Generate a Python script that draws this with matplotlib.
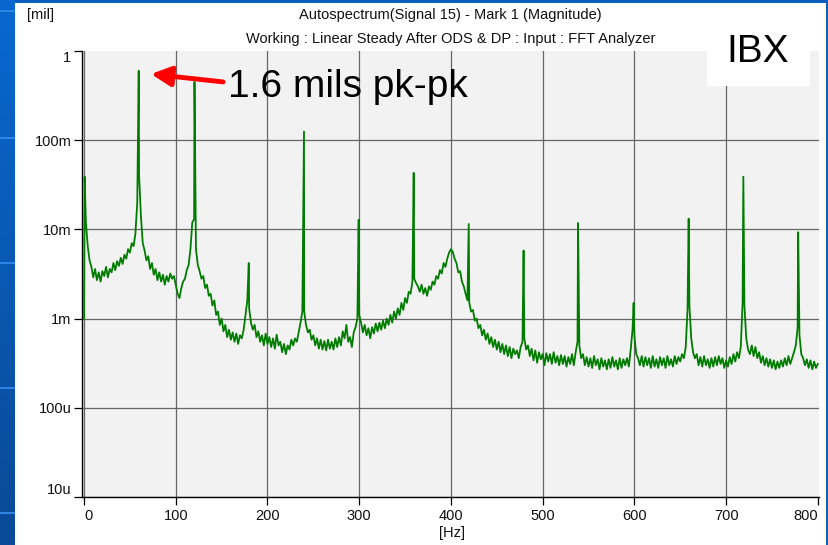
import numpy as np
import matplotlib
matplotlib.use('Agg')
import matplotlib.pyplot as plt
from matplotlib.patches import Rectangle

plt.rcParams['font.family'] = ['Liberation Sans', 'DejaVu Sans']

# spectrum floor, one value every 2 Hz from 0 to 800 Hz [mil]
freq_step = 2
floor_mil = [
    0.0010, 0.0120, 0.0065, 0.0045, 0.0038, 0.0029, 0.0036, 0.0027, 0.0033, 0.0026,   # 0-18
    0.0034, 0.0030, 0.0038, 0.0029, 0.0036, 0.0033, 0.0042, 0.0035, 0.0044, 0.0039,   # 20-38
    0.0048, 0.0041, 0.0052, 0.0047, 0.0060, 0.0055, 0.0070, 0.0065, 0.0090, 0.0200,   # 40-58
    0.0400, 0.0140, 0.0070, 0.0058, 0.0045, 0.0050, 0.0036, 0.0042, 0.0031, 0.0036,   # 60-78
    0.0027, 0.0033, 0.0026, 0.0031, 0.0024, 0.0030, 0.0026, 0.0032, 0.0028, 0.0030,   # 80-98
    0.0024, 0.0019, 0.0017, 0.0022, 0.0026, 0.0028, 0.0035, 0.0040, 0.0060, 0.0120,   # 100-118
    0.0130, 0.0060, 0.0040, 0.0034, 0.0028, 0.0030, 0.0022, 0.0024, 0.0018, 0.0019,   # 120-138
    0.0014, 0.0016, 0.0011, 0.0012, 0.00085, 0.0010, 0.00072, 0.00085, 0.00062, 0.00075,  # 140-158
    0.00058, 0.00070, 0.00055, 0.00068, 0.00052, 0.00065, 0.00060, 0.00075, 0.0011, 0.0016,  # 160-178
    0.0013, 0.0009, 0.00075, 0.00085, 0.00062, 0.00072, 0.00055, 0.00065, 0.00050, 0.00068,  # 180-198
    0.00052, 0.00062, 0.00048, 0.00060, 0.00046, 0.00066, 0.00050, 0.00055, 0.00042, 0.00052,  # 200-218
    0.00040, 0.00050, 0.00045, 0.00058, 0.00050, 0.00060, 0.00055, 0.00070, 0.00090, 0.0012,  # 220-238
    0.0012, 0.00085, 0.00070, 0.00075, 0.00058, 0.00065, 0.00050, 0.00060, 0.00046, 0.00058,  # 240-258
    0.00045, 0.00056, 0.00044, 0.00058, 0.00046, 0.00055, 0.00045, 0.00060, 0.00048, 0.00062,  # 260-278
    0.00050, 0.00072, 0.00060, 0.00085, 0.00055, 0.00062, 0.00048, 0.00070, 0.00080, 0.00100,  # 280-298
    0.00110, 0.00090, 0.00070, 0.00085, 0.00065, 0.00078, 0.00060, 0.00080, 0.00068, 0.00088,  # 300-318
    0.00072, 0.00090, 0.00075, 0.00095, 0.00078, 0.00100, 0.00085, 0.00110, 0.00090, 0.00120,  # 320-338
    0.00100, 0.00130, 0.00110, 0.00150, 0.00125, 0.00170, 0.00150, 0.00200, 0.00190, 0.00260,  # 340-358
    0.00280, 0.00250, 0.00230, 0.00200, 0.00240, 0.00190, 0.00220, 0.00180, 0.00230, 0.00210,  # 360-378
    0.00260, 0.00240, 0.00300, 0.00280, 0.00350, 0.00320, 0.00420, 0.00380, 0.00470, 0.00550,  # 380-398
    0.00600, 0.00560, 0.00470, 0.00420, 0.00330, 0.00340, 0.00260, 0.00230, 0.00190, 0.00160,  # 400-418
    0.00150, 0.00120, 0.00125, 0.00095, 0.00100, 0.00078, 0.00085, 0.00065, 0.00075, 0.00058,  # 420-438
    0.00068, 0.00052, 0.00062, 0.00048, 0.00058, 0.00045, 0.00055, 0.00042, 0.00052, 0.00040,  # 440-458
    0.00050, 0.00038, 0.00048, 0.00036, 0.00046, 0.00040, 0.00044, 0.00036, 0.00048, 0.00055,  # 460-478
    0.00060, 0.00045, 0.00050, 0.00038, 0.00046, 0.00034, 0.00044, 0.00032, 0.00042, 0.00035,  # 480-498
    0.00040, 0.00030, 0.00041, 0.00033, 0.00040, 0.00031, 0.00042, 0.00032, 0.00038, 0.00030,  # 500-518
    0.00039, 0.00031, 0.00038, 0.00029, 0.00037, 0.00031, 0.00040, 0.00030, 0.00042, 0.00055,  # 520-538
    0.00050, 0.00036, 0.00040, 0.00030, 0.00037, 0.00029, 0.00036, 0.00028, 0.00038, 0.00030,  # 540-558
    0.00035, 0.00027, 0.00036, 0.00029, 0.00034, 0.00027, 0.00035, 0.00028, 0.00037, 0.00029,  # 560-578
    0.00034, 0.00027, 0.00036, 0.00028, 0.00035, 0.00030, 0.00036, 0.00029, 0.00045, 0.00075,  # 580-598
    0.00065, 0.00040, 0.00036, 0.00030, 0.00038, 0.00029, 0.00037, 0.00030, 0.00036, 0.00028,  # 600-618
    0.00038, 0.00029, 0.00035, 0.00028, 0.00037, 0.00030, 0.00036, 0.00028, 0.00038, 0.00030,  # 620-638
    0.00035, 0.00029, 0.00038, 0.00031, 0.00037, 0.00033, 0.00040, 0.00036, 0.00048, 0.00130,  # 640-658
    0.00140, 0.00060, 0.00042, 0.00036, 0.00040, 0.00030, 0.00037, 0.00029, 0.00038, 0.00030,  # 660-678
    0.00035, 0.00028, 0.00036, 0.00029, 0.00037, 0.00030, 0.00038, 0.00031, 0.00036, 0.00028,  # 680-698
    0.00034, 0.00029, 0.00037, 0.00031, 0.00040, 0.00033, 0.00042, 0.00036, 0.00048, 0.00150,  # 700-718
    0.00140, 0.00060, 0.00045, 0.00040, 0.00050, 0.00038, 0.00048, 0.00036, 0.00042, 0.00032,  # 720-738
    0.00038, 0.00030, 0.00036, 0.00029, 0.00035, 0.00028, 0.00034, 0.00027, 0.00033, 0.00028,  # 740-758
    0.00034, 0.00029, 0.00036, 0.00030, 0.00038, 0.00031, 0.00036, 0.00042, 0.00050, 0.00080,  # 760-778
    0.00065, 0.00040, 0.00036, 0.00030, 0.00035, 0.00028, 0.00034, 0.00027, 0.00033, 0.00028,  # 780-798
    0.00031,                                                                                 # 800
]

# narrow harmonic lines on top of the floor
peak_hz = [0.6, 59.6, 120.4, 179.6, 239.8, 299.4, 359.4, 419.4, 479.2, 538.6, 599.2, 659.2, 718.8, 778.6]
peak_mil = [0.039, 0.60, 0.45, 0.0042, 0.125, 0.0128, 0.043, 0.0115, 0.0058, 0.0118, 0.0015, 0.0132, 0.039, 0.0093]

x_ticks = [0, 100, 200, 300, 400, 500, 600, 700, 800]
y_ticks = [1e-5, 1e-4, 1e-3, 1e-2, 1e-1, 1]
y_tick_labels = ['10u', '100u', '1m', '10m', '100m', '1']

freq = np.arange(len(floor_mil)) * freq_step
hz = np.concatenate([freq, peak_hz])
mil = np.concatenate([floor_mil, peak_mil])
order = np.argsort(hz, kind='stable')

W, H = 829, 545
fig = plt.figure(figsize=(W / 100, H / 100), dpi=100, facecolor='#0a5ebf')

# blue slide edge on the left with a soft gradient and light streaks
strip = fig.add_axes([0, 0, 15 / W, 1])
top_c = np.array([0x08, 0x68, 0xcf]) / 255
bot_c = np.array([0x0a, 0x4a, 0x96]) / 255
t = np.linspace(0, 1, 100)[:, None, None]
strip.imshow(top_c * (1 - t) + bot_c * t, aspect='auto', extent=[0, 1, 0, 1])
for yy in [10, 137, 262, 387, 512]:
    strip.add_patch(Rectangle((0, 1 - (yy + 1.5) / H), 1, 2 / H, color='#2e85e4', lw=0))
strip.set_xlim(0, 1)
strip.set_ylim(0, 1)
strip.axis('off')

# white panel
fig.add_artist(Rectangle((15 / W, 0), (826 - 15) / W, (H - 3) / H, transform=fig.transFigure,
                         facecolor='white', edgecolor='none', zorder=-5))

ax = fig.add_axes([82.5 / W, 1 - 497 / H, (819 - 82.5) / W, (497 - 51) / H])
ax.set_facecolor('#f2f2f2')
ax.plot(hz[order], mil[order], color='#007c00', lw=1.3, zorder=3)

ax.set_yscale('log')
ax.set_ylim(1e-5, 1)
ax.set_xlim(-1.7, 801.3)
ax.set_yticks(y_ticks, y_tick_labels)
ax.yaxis.set_minor_locator(matplotlib.ticker.NullLocator())
ax.set_xticks(x_ticks, [str(v) for v in x_ticks])
for s in ['top', 'right']:
    ax.spines[s].set_visible(False)
for s in ['left', 'bottom']:
    ax.spines[s].set_linewidth(1.0)
ax.tick_params(length=6, width=0.9, color='black', labelsize=10.5, pad=2, labelcolor='#111111')
ax.tick_params(axis='x', pad=3)

ax.grid(True, color='#666666', lw=0.9)
ax.set_axisbelow(True)
ax.get_xgridlines()[-1].set_visible(False)
ax.get_ygridlines()[-1].set_visible(False)

ylabels = ax.get_yticklabels()
ylabels[0].set_va('bottom')
ylabels[-1].set_va('top')
xlabels = ax.get_xticklabels()
xlabels[0].set_ha('left')
xlabels[-1].set_ha('right')

fig.text(450.75 / W, 1 - 15 / H, 'Autospectrum(Signal 15) - Mark 1 (Magnitude)',
         ha='center', va='center', fontsize=10.5, color='#111111')
fig.text(450.75 / W, 1 - 39 / H, 'Working : Linear Steady After ODS & DP : Input : FFT Analyzer',
         ha='center', va='center', fontsize=10.5, color='#111111')
fig.text(27 / W, 1 - 15 / H, '[mil]', ha='left', va='center', fontsize=10.5, color='#111111')
fig.text(452 / W, 1 - 533 / H, '[Hz]', ha='center', va='center', fontsize=10.5, color='#111111')

# callout on the 1x peak
ax.annotate('', xy=(73, 0.552), xytext=(151.5, 0.45),
            arrowprops=dict(arrowstyle='-|>,head_length=0.6,head_width=0.3', color='red',
                            lw=3.5, mutation_scale=20, shrinkA=0, shrinkB=0),
            annotation_clip=False, zorder=6)
ax.text(157, 0.305, '1.6 mils pk-pk', fontsize=28, ha='left', va='baseline', zorder=6)

fig.add_artist(Rectangle((707 / W, 1 - 86 / H), 103 / W, 83 / H, transform=fig.transFigure,
                         facecolor='white', edgecolor='none', zorder=5))
fig.text(758 / W, 1 - 52 / H, 'IBX', fontsize=28, ha='center', va='center', zorder=6)

fig.savefig('out.png', dpi=100, facecolor=fig.get_facecolor())
